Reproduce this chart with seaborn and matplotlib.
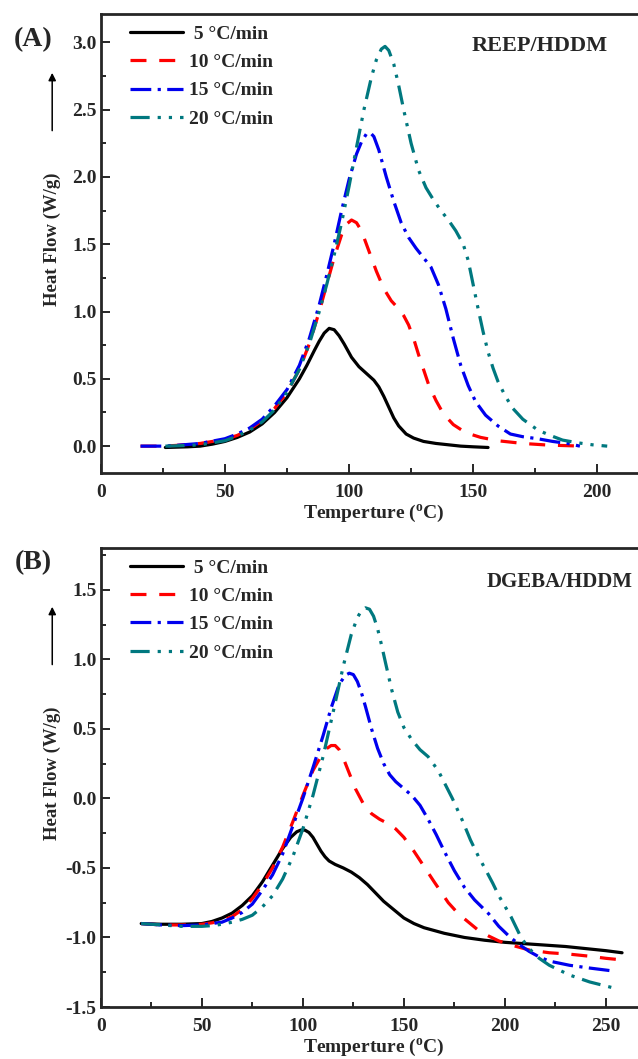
import numpy as np
import pandas as pd
import matplotlib
matplotlib.use("Agg")
import matplotlib.pyplot as plt
from matplotlib.ticker import MultipleLocator
import seaborn as sns

# ---- data (Temperature degC, Heat flow W/g) ----
rates = ["5 °C/min", "10 °C/min", "15 °C/min", "20 °C/min"]

# (A) REEP/HDDM
a5_x = [26, 35, 40, 45, 50, 55, 60, 65, 70, 75, 80, 83, 86, 88, 90, 92, 94, 96, 98, 101, 104, 107, 110,
        112, 114, 116, 118, 120, 123, 126, 130, 135, 140, 145, 150, 156]
a5_y = [-0.01, -0.005, 0.0, 0.015, 0.035, 0.065, 0.105, 0.165, 0.25, 0.36, 0.5, 0.6, 0.71, 0.78, 0.84,
        0.875, 0.865, 0.82, 0.76, 0.66, 0.59, 0.54, 0.49, 0.44, 0.37, 0.29, 0.21, 0.15, 0.09, 0.06,
        0.035, 0.02, 0.01, 0.0, -0.005, -0.01]

a10_x = [16, 25, 30, 40, 50, 55, 60, 65, 70, 75, 80, 84, 88, 91, 94, 97, 99, 101, 103, 105, 108, 111,
         114, 117, 120, 122, 124, 126, 128, 130, 132, 135, 138, 142, 147, 153, 160, 170, 180, 194]
a10_y = [0, 0, 0.005, 0.02, 0.05, 0.08, 0.125, 0.19, 0.28, 0.4, 0.57, 0.76, 1.0, 1.2, 1.4, 1.57, 1.65,
         1.68, 1.66, 1.6, 1.45, 1.3, 1.17, 1.08, 1.02, 0.97, 0.9, 0.8, 0.68, 0.57, 0.46, 0.34, 0.24,
         0.16, 0.1, 0.065, 0.04, 0.02, 0.008, 0.0]

a15_x = [16, 25, 30, 40, 50, 55, 60, 65, 70, 75, 80, 84, 88, 91, 94, 97, 100, 103, 105, 107, 108.5, 110,
         112, 115, 118, 121, 124, 127, 130, 133, 136, 139, 142, 145, 148, 151, 155, 160, 165, 170, 176,
         182, 188, 193]
a15_y = [0, 0, 0.005, 0.02, 0.055, 0.09, 0.135, 0.2, 0.3, 0.42, 0.6, 0.8, 1.05, 1.27, 1.5, 1.75, 1.98,
         2.17, 2.26, 2.32, 2.33, 2.3, 2.2, 2.0, 1.82, 1.66, 1.55, 1.47, 1.4, 1.33, 1.2, 1.02, 0.8, 0.6,
         0.45, 0.33, 0.23, 0.15, 0.09, 0.07, 0.055, 0.035, 0.02, 0.0]

a20_x = [26, 35, 40, 50, 55, 60, 65, 70, 75, 80, 84, 88, 91, 94, 97, 100, 103, 106, 109, 111, 113, 114.5,
         116, 118, 120, 122, 125, 128, 131, 134, 137, 140, 143, 146, 148, 150, 152, 154, 156, 158, 160,
         163, 166, 170, 176, 181, 186, 192, 198, 204]
a20_y = [0, 0.005, 0.01, 0.04, 0.075, 0.12, 0.18, 0.27, 0.4, 0.57, 0.76, 1.0, 1.2, 1.42, 1.66, 1.93,
         2.22, 2.5, 2.74, 2.87, 2.95, 2.97, 2.94, 2.84, 2.68, 2.5, 2.25, 2.05, 1.92, 1.83, 1.75, 1.68,
         1.6, 1.5, 1.38, 1.2, 1.02, 0.85, 0.7, 0.58, 0.48, 0.37, 0.28, 0.2, 0.12, 0.08, 0.045, 0.025,
         0.01, 0.0]

# (B) DGEBA/HDDM
b5_x = [20, 30, 40, 50, 55, 60, 65, 70, 75, 80, 85, 90, 94, 97, 99, 101, 103, 105, 107, 109, 111, 113,
        116, 120, 124, 128, 132, 136, 140, 145, 150, 155, 160, 170, 180, 190, 200, 210, 220, 230, 240,
        250, 258]
b5_y = [-0.9, -0.905, -0.905, -0.9, -0.885, -0.86, -0.825, -0.77, -0.7, -0.6, -0.48, -0.36, -0.28,
        -0.24, -0.228, -0.228, -0.245, -0.28, -0.33, -0.38, -0.42, -0.45, -0.475, -0.5, -0.53, -0.57,
        -0.62, -0.68, -0.74, -0.8, -0.86, -0.9, -0.93, -0.97, -1.0, -1.02, -1.035, -1.045, -1.055,
        -1.065, -1.08, -1.095, -1.11]

b10_x = [20, 30, 40, 50, 55, 60, 65, 70, 75, 80, 85, 90, 95, 100, 105, 110, 112, 114, 116, 118, 120,
         123, 126, 130, 134, 138, 142, 146, 150, 155, 160, 165, 172, 177, 182, 187, 192, 197, 202, 212,
         222, 232, 242, 250, 257]
b10_y = [-0.9, -0.91, -0.91, -0.905, -0.895, -0.88, -0.85, -0.8, -0.72, -0.62, -0.5, -0.35, -0.17,
         0.02, 0.2, 0.33, 0.36, 0.38, 0.38, 0.35, 0.29, 0.18, 0.07, -0.04, -0.11, -0.15, -0.18, -0.22,
         -0.28, -0.38, -0.49, -0.6, -0.75, -0.83, -0.89, -0.95, -0.99, -1.025, -1.05, -1.09, -1.11,
         -1.12, -1.135, -1.15, -1.16]

b15_x = [20, 30, 40, 50, 55, 60, 65, 70, 75, 80, 85, 90, 95, 100, 105, 110, 114, 118, 121, 123, 125,
         127, 129, 131, 134, 137, 140, 143, 146, 150, 154, 158, 162, 166, 170, 175, 180, 185, 192, 197,
         202, 207, 212, 217, 222, 232, 242, 253]
b15_y = [-0.9, -0.91, -0.915, -0.91, -0.9, -0.89, -0.86, -0.82, -0.76, -0.66, -0.55, -0.4, -0.2, 0.0,
         0.22, 0.45, 0.65, 0.82, 0.885, 0.9, 0.89, 0.84, 0.76, 0.66, 0.5, 0.36, 0.25, 0.17, 0.12, 0.07,
         0.02, -0.05, -0.15, -0.26, -0.38, -0.52, -0.64, -0.73, -0.83, -0.92, -0.99, -1.05, -1.1,
         -1.14, -1.17, -1.2, -1.22, -1.24]

b20_x = [20, 30, 40, 50, 55, 60, 65, 70, 75, 80, 85, 90, 95, 100, 105, 110, 115, 120, 124, 127, 129,
         131, 133, 135, 137, 139, 141, 144, 147, 150, 154, 158, 162, 167, 174, 179, 183, 187, 190, 194,
         197, 203, 208, 212, 217, 222, 232, 242, 253]
b20_y = [-0.9, -0.91, -0.92, -0.92, -0.915, -0.905, -0.89, -0.87, -0.84, -0.78, -0.7, -0.58, -0.42,
         -0.22, 0.02, 0.3, 0.62, 0.95, 1.18, 1.3, 1.35, 1.37, 1.36, 1.31, 1.22, 1.1, 0.97, 0.78, 0.62,
         0.51, 0.42, 0.35, 0.3, 0.2, 0.0, -0.16, -0.3, -0.42, -0.5, -0.61, -0.7, -0.85, -1.0, -1.08,
         -1.15, -1.2, -1.27, -1.32, -1.36]

colors = ["black", "#ff0000", "#0000ee", "#00787f"]
styles = ["-", (0, (5, 4)), (0, (6.5, 2, 1, 2)), (0, (6, 2.5, 1, 2.5, 1, 2.5))]

panel_a = [(a5_x, a5_y), (a10_x, a10_y), (a15_x, a15_y), (a20_x, a20_y)]
panel_b = [(b5_x, b5_y), (b10_x, b10_y), (b15_x, b15_y), (b20_x, b20_y)]

sns.set_style("ticks")
plt.rcParams["font.family"] = ["Liberation Serif", "DejaVu Serif"]
plt.rcParams["font.weight"] = "bold"
plt.rcParams["mathtext.fontset"] = "custom"
plt.rcParams["mathtext.rm"] = "Liberation Serif:bold"

fig = plt.figure(figsize=(6.38, 10.59), dpi=100)
ax1 = fig.add_axes([0.158, 0.5533, 0.856, 0.4334])
ax2 = fig.add_axes([0.158, 0.0491, 0.855, 0.4334])


def draw(ax, series):
    for (xs, ys), lab, c, ls in zip(series, rates, colors, styles):
        df = pd.DataFrame({"T": xs, "H": ys})
        sns.lineplot(data=df, x="T", y="H", ax=ax, color=c, linestyle=ls, lw=2.3,
                     label=(" " + lab if lab.startswith("5") else lab),
                     estimator=None, sort=False)
    for s in ["left", "bottom", "top", "right"]:
        ax.spines[s].set_linewidth(2)
    ax.tick_params(which="major", direction="in", length=6.5, width=1.4, labelsize=14, pad=3)
    ax.tick_params(axis="x", which="major", pad=8)
    ax.tick_params(which="minor", direction="in", length=3.5, width=1.4)
    ax.xaxis.set_major_locator(MultipleLocator(50))
    ax.xaxis.set_minor_locator(MultipleLocator(25))
    ax.yaxis.set_major_locator(MultipleLocator(0.5))
    ax.yaxis.set_minor_locator(MultipleLocator(0.25))
    for t in ax.get_xticklabels() + ax.get_yticklabels():
        t.set_fontweight("bold")
    ax.set_xlabel(r"Temperture ($^{\mathrm{o}}$C)", fontsize=14, fontweight="bold", labelpad=1)
    ax.set_ylabel("")
    ax.text(-0.089, 0.51, "Heat Flow (W/g)", transform=ax.transAxes, rotation=90,
            ha="center", va="center", fontsize=13.5, fontweight="bold")
    ax.annotate("", xy=(-0.089, 0.878), xytext=(-0.089, 0.74), xycoords="axes fraction",
                textcoords="axes fraction",
                arrowprops=dict(arrowstyle="-|>", color="black", lw=1.1, mutation_scale=11))
    leg = ax.legend(loc="upper left", bbox_to_anchor=(0.054, 0.976), frameon=False,
                    fontsize=14, handlelength=2.7, handletextpad=0.3, labelspacing=0.55,
                    borderpad=0, borderaxespad=0)
    for t in leg.get_texts():
        t.set_fontweight("bold")


draw(ax1, panel_a)
ax1.set_xlim(0, 220)
ax1.set_ylim(-0.2, 3.21)
ax1.yaxis.set_major_formatter(matplotlib.ticker.FormatStrFormatter("%.1f"))
ax1.text(472 / 638, 1 - 46 / 1059, "REEP/HDDM", transform=fig.transFigure, ha="left",
         va="center", fontsize=16, fontweight="bold")

draw(ax2, panel_b)
ax2.set_xlim(0, 270)
ax2.set_ylim(-1.5, 1.8)
ax2.yaxis.set_major_formatter(matplotlib.ticker.FormatStrFormatter("%.1f"))
ax2.text(633 / 638, 1 - 582 / 1059, "DGEBA/HDDM", transform=fig.transFigure, ha="right",
         va="center", fontsize=15, fontweight="bold")

fig.text(33 / 638, 1 - 40 / 1059, "(A)", ha="center", va="center", fontsize=20, fontweight="bold")
fig.text(33 / 638, 1 - 563 / 1059, "(B)", ha="center", va="center", fontsize=20, fontweight="bold")

fig.savefig("out.png", dpi=100)
